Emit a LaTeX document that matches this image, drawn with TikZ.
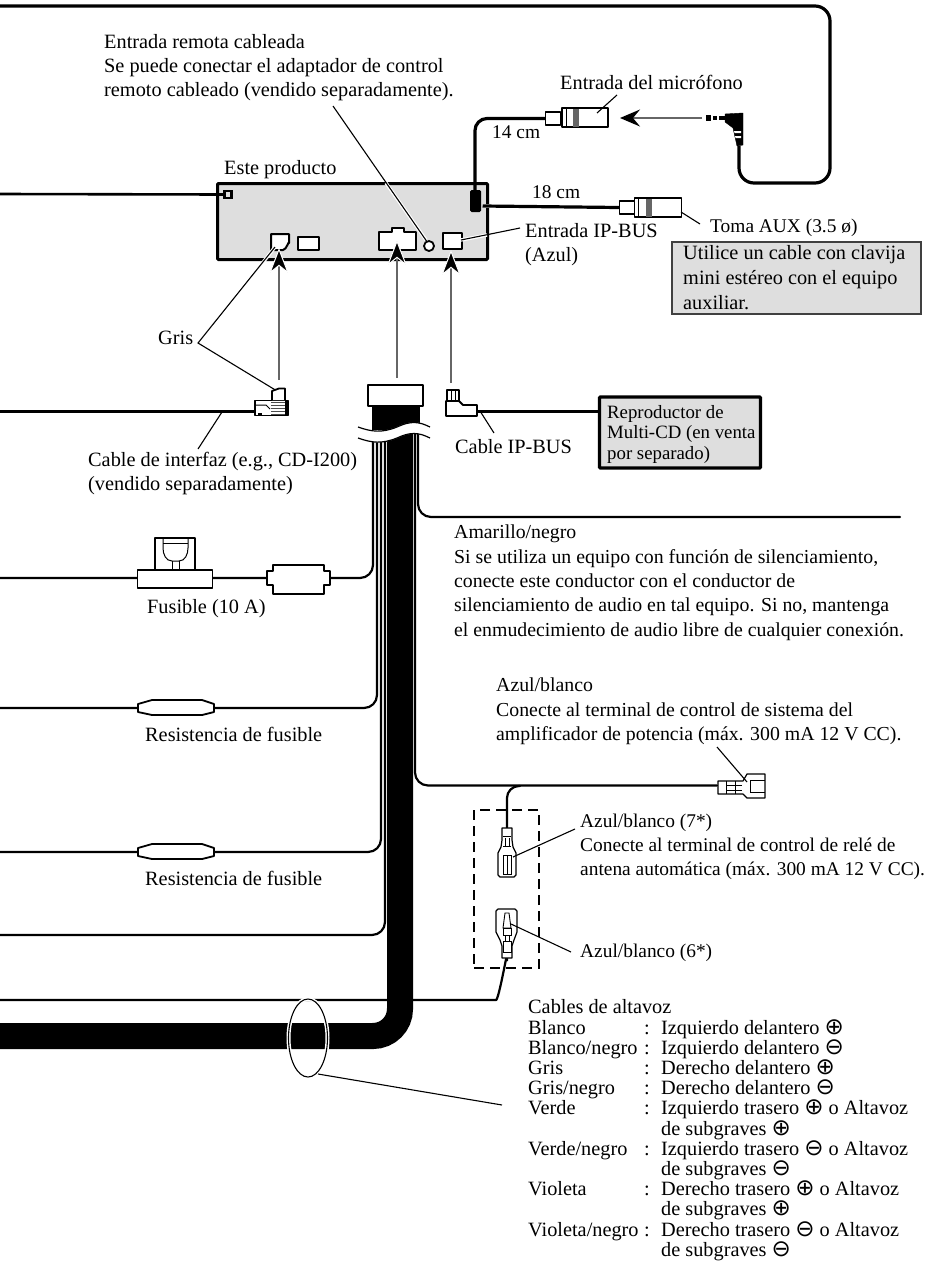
\documentclass[tikz,border=0pt]{standalone}
\usepackage{fontspec}
\setmainfont{Liberation Serif}
\newfontfamily\symf{DejaVu Sans}
\usetikzlibrary{arrows.meta,shapes.geometric}
\newcommand\cpl{\smash{\symf\fontsize{23}{23}\selectfont ⊕}}
\newcommand\cmn{\smash{\symf\fontsize{23}{23}\selectfont ⊖}}
\newcommand\fl{\rule{0pt}{13pt}}
\definecolor{panel}{HTML}{DEDEDE}
\definecolor{shaft}{HTML}{666666}
\tikzset{
  txt/.style={anchor=north west,inner sep=0pt,align=left,font=\fontsize{20.3}{24.5}\selectfont},
  wire/.style={line width=2.2pt,line cap=round,line join=round,rounded corners=13pt},
  wirethick/.style={line width=3.2pt,line join=round,rounded corners=15pt},
  part/.style={draw=black,fill=white,line width=1.8pt,line join=round},
  thin part/.style={draw=black,fill=white,line width=1.2pt,line join=round},
  lead/.style={line width=1.1pt,black},
  halo/.style={line width=3.4pt,white},
  plugarrow/.style={line width=2pt,shaft,-{Stealth[length=26pt,width=20pt,inset=8pt,color=white,fill=black,line width=1pt]}},
}
\begin{document}
\begin{tikzpicture}[x=1pt,y=-1pt]
\useasboundingbox (0,0) rectangle (940,1261);
% ---------- named free ends
\coordinate (L0) at (0,6);
\coordinate (L1) at (0,194);
\coordinate (L2) at (0,411);
\coordinate (L3) at (0,578);
\coordinate (L4) at (0,708);
\coordinate (L5) at (0,852);
\coordinate (L6) at (0,935);
\coordinate (L7) at (0,1000);
\coordinate (L8) at (0,1036);
\coordinate (Tr) at (830,6);
\coordinate (Br) at (830,183);
\coordinate (Bl) at (739,183);
\coordinate (W1) at (373,434);
\coordinate (W2) at (377,434);
\coordinate (W3) at (381,434);
\coordinate (W4) at (385,434);
\coordinate (W5) at (415,434);
\coordinate (W6) at (418,434);
\coordinate (Bd) at (400,425);
\coordinate (Yel) at (900,517);

% ---------- product box
\node[draw=black,fill=panel,line width=3pt,rounded corners=1pt,minimum width=270pt,minimum height=76pt,inner sep=0pt] (prod) at (352.5,221.5) {};
% sockets
\node[draw=black,fill=panel,line width=2.4pt,minimum width=7pt,minimum height=7pt,inner sep=0pt] (sockA) at (228,194.5) {};
\draw[part,line width=2pt] (271,234) -- (289,234) -- (289,243) to[out=90,in=0] (283,250) -- (271,250) -- cycle;
\coordinate (sockB) at (279,248);
\node[part,minimum width=21pt,minimum height=13pt,inner sep=0pt] (sockC) at (308.5,243.5) {};
\draw[part,line width=2pt] (379,232) -- (392,232) -- (392,228) -- (404,228) -- (404,232) -- (416,232) -- (416,250) -- (379,250) -- cycle;
\coordinate (sockD) at (397,240);
\node[circle,draw=black,fill=white,line width=1.8pt,minimum size=10pt,inner sep=0pt] (remote) at (429,246) {};
\node[part,minimum width=19pt,minimum height=16pt,inner sep=0pt] (sockE) at (452.5,241) {};
\coordinate (sockEt) at (451,250);
\node[fill=black,rounded corners=1.5pt,minimum width=11pt,minimum height=22pt,inner sep=0pt] (micjack) at (475.5,201) {};
\coordinate (auxjack) at (481,206);
\draw[wirethick,line width=2.6pt] (L1) -- (sockA.west);
\fill[panel] (228,194.5) circle (1.5pt);

% ---------- long top wire with the microphone plug
\draw[wirethick] (L0) -- (Tr) -- (Br) -- (Bl) -- (739,146);
\draw[draw=black,fill=black,line join=round] (725,114) -- (743,113) -- (743,145) -- (737,146) -- (733,128) -- (725,122) -- cycle;
\fill[white] (734,131) -- (741,131) -- (741,133) -- (734.5,133) -- cycle;
\fill[white] (735,136) -- (741,136) -- (741,138) -- (735.5,138) -- cycle;
\fill[black] (706,114.5) rectangle (711,121);
\fill[black] (713,116) rectangle (717,120);
\fill[black] (719,116) rectangle (725,120);

% ---------- microphone socket
\node[thin part,minimum width=15pt,minimum height=13pt,inner sep=0pt] (micA) at (553,118.5) {};
\node[thin part,minimum width=46pt,minimum height=19pt,inner sep=0pt] (micB) at (585,117.5) {};
\draw[line width=1pt] (566,108) -- (566,127);
\fill[shaft] (573,108.5) rectangle (579,126.5);
\draw[wirethick,rounded corners=12pt] (475,195) |- (micA.west);
\coordinate (jackTip) at (702,118);
\coordinate (micHead) at (620,118);
\draw[line width=1.4pt,shaft,-{Stealth[length=20pt,width=17pt,inset=7pt,color=black,fill=black]}] (jackTip) -- (micHead);

% ---------- AUX socket
\node[thin part,minimum width=15pt,minimum height=13pt,inner sep=0pt] (auxA) at (627,207.5) {};
\node[thin part,minimum width=47pt,minimum height=19pt,inner sep=0pt] (auxB) at (658,207.5) {};
\draw[line width=1pt] (638,198) -- (638,217);
\fill[shaft] (646,198.5) rectangle (652,216.5);
\draw[white,line width=4.6pt] (482,206) -- (490,206);
\draw[wirethick] (482.5,206) -- (auxA.west);

% ---------- remote lead (over the box)
\coordinate (remT) at (333,106);
\draw[halo] (426,240) -- (386,183);
\draw[lead] (remT) -- (426.5,241);
% ---------- Gris
\node[inner sep=0pt,anchor=west,font=\fontsize{20.3}{24}\selectfont,text height=13pt,text depth=4pt] (gris) at (158,340) {Gris};
\coordinate (grisV) at (198,343);
\coordinate (grisA) at (275,247);
\coordinate (grisB) at (277,391);
\draw[halo] (grisA) -- ++(-14,18);
\draw[lead] (grisA) -- (grisV) -- (grisB);

% ---------- IP-BUS lead over box
\coordinate (ipL) at (520,228);
\draw[halo] (461,240) -- (487,235);
\draw[lead] (ipL) -- (461,240);

% ---------- Interface connector
\draw[wire,line width=3pt] (L2) -- (255,411);
\node[part,minimum width=33pt,minimum height=15pt,inner sep=0pt] (ifc) at (271.5,408) {};
\draw[part] (272,400) -- (272,391) -- (279,388.5) -- (285,388.5) -- (285,400);
\foreach \yy in {402,405,408,411,414}{\draw[black!70,line width=1pt] (271,\yy) -- (285,\yy);}
\draw[line width=1pt] (256,405) -- (266,405) -- (270,409);
\fill[black] (258,413) rectangle (262,416);
\fill[black] (285,400) rectangle (288,415);
\coordinate (ifcL) at (222,412);
\coordinate (ifcT) at (198,449);
\draw[lead] (ifcL) -- (ifcT);

% ---------- IP-BUS connector
\draw[part] (447,401) -- (447,390) -- (459,390) -- (459,401);
\draw[line width=.8pt] (451,390) -- (451,401) (455,390) -- (455,401);
\draw[part] (446,401) -- (459,401) -- (463,405) -- (477,405) -- (477,416) -- (446,416) -- cycle;
\coordinate (ipOut) at (478,411);
\coordinate (ipT) at (494,433);
\draw[lead] (480,411) -- (ipT);

% ---------- CD player
\node[draw=black,fill=panel,line width=3.4pt,rounded corners=1pt,minimum width=161pt,minimum height=71pt,inner sep=0pt] (cd) at (680,432.5) {};
\draw[wire,line width=3pt] (ipOut) -- (cd.west |- ipOut);
\node[anchor=north west,inner sep=0pt,align=left,font=\fontsize{18.8}{20.5}\selectfont] (cdt) at (607,405) {\fl Reproductor de\\Multi-CD (en venta\\por separado)};

% ---------- wires from the loom (behind)
\draw[wire] (L7) -- (483,1000) to[out=0,in=90] (507,968) -- (507,958);
\draw[wire] (W1) |- (L3);
\draw[wire] (W2) |- (L4);
\draw[wire] (W3) |- (L5);
\draw[wire] (W4) |- (L6);
\draw[wire] (W6) |- (Yel);

% ---------- black loom
\draw[black,line width=26pt,rounded corners=27pt] (Bd) -- (400,1036) -- (L8);

% ---------- loom header
\fill[black] (372,405) rectangle (420,430);
\node[part,minimum width=55pt,minimum height=21pt,inner sep=0pt] (head) at (395.5,395.5) {};
% wave break
\draw[white,fill=white] (358,427) .. controls (372,432) and (382,433) .. (397,427) .. controls (410,421) and (418,421) .. (430,427) -- (430,438) .. controls (418,432) and (410,432) .. (397,438) .. controls (382,444) and (372,443) .. (358,438) -- cycle;
\draw[line width=1.2pt] (358,427) .. controls (372,432) and (382,433) .. (397,427) .. controls (410,421) and (418,421) .. (430,427);
\draw[line width=1.2pt] (358,438) .. controls (372,443) and (382,444) .. (397,438) .. controls (410,432) and (418,432) .. (430,438);

% ---------- fuse
\node[part,minimum width=40pt,minimum height=32pt,inner sep=0pt,line width=1.6pt] (fuseT) at (175,554) {};
\draw[line width=1pt] (163,538) -- (163,548) to[out=-90,in=180] (172,561) -- (179,561) to[out=0,in=-90] (188,548) -- (188,538);
\draw[line width=1pt] (163,543) -- (188,543);
\draw[line width=1pt] (172,561) -- (172,570) (179,561) -- (179,570);
\node[part,minimum width=75pt,minimum height=18pt,inner sep=0pt] (fuseB) at (175,579) {};
\draw[part] (267,571) -- (273,571) -- (273,565) -- (324,565) -- (324,571) -- (330,571) -- (330,585) -- (324,585) -- (324,594) -- (273,594) -- (273,585) -- (267,585) -- cycle;

% ---------- resistors
\draw[part] (138,704) -- (152,700) -- (202,700) -- (214,704) -- (214,712) -- (202,715) -- (152,715) -- (138,712) -- cycle;
\draw[part] (138,848) -- (152,844) -- (202,844) -- (214,848) -- (214,856) -- (202,859) -- (152,859) -- (138,856) -- cycle;

% ---------- blue system connector
\draw[wire] (W5) |- (717,785.5);
\draw[wire,rounded corners=12pt] (520,786) -- (507,786) -- (507,828);
\draw[thin part] (718,781) -- (743,781) -- (747,774) -- (765,774) -- (765,798) -- (747,798) -- (743,794) -- (718,794) -- cycle;
\draw[line width=1pt] (726,781) -- (726,794) (735,781) -- (735,794) (726,785) -- (742,785) (726,790) -- (742,790);
\draw[line width=1pt] (750,780) -- (765,780) (750,792) -- (765,792) (750,780) -- (750,792);
\coordinate (blueL) at (717,747);
\draw[lead] (blueL) -- (747,782);

% ---------- dashed frame
\node[draw=black,dash pattern=on 10pt off 6pt,line width=1.8pt,minimum width=65pt,minimum height=158pt,inner sep=0pt] (frame) at (506.5,889) {};

% ---------- terminal 7
\draw[thin part] (502,828) -- (512,828) -- (512,840) -- (513,847) -- (516,853) -- (516,875) -- (514,877) -- (500,877) -- (498,875) -- (498,853) -- (501,847) -- (502,840) -- cycle;
\draw[line width=.9pt] (503,836) -- (511,836) (503,846) -- (511,846) (505,838) -- (505,846) (509,838) -- (509,846);
\draw[line width=.9pt] (503,855) rectangle (511,874);
\draw[line width=.9pt] (507,855) -- (507,874);
\coordinate (t7) at (513,857);
\coordinate (t7L) at (575,829);
\draw[lead] (t7) -- (t7L);
% ---------- terminal 6
\draw[thin part] (498,909) -- (515,909) -- (517,911) -- (517,932) -- (514,940) -- (512,946) -- (512,958) -- (502,958) -- (502,946) -- (500,940) -- (496,932) -- (496,911) -- cycle;
\draw[line width=.9pt] (505,913) -- (509,913) -- (511,928) -- (503,928) -- cycle;
\draw[line width=.9pt] (503,928) rectangle (511,935) (503,941) rectangle (511,952);
\draw[line width=.9pt] (505,935) -- (505,941) (509,935) -- (509,941);
\coordinate (t6) at (511,924);
\coordinate (t6L) at (571,952);
\draw[lead] (t6) -- (t6L);
% plug arrows
\coordinate (a1) at (279,380);
\coordinate (a2) at (397,378);
\coordinate (a3) at (451,383);
\draw[plugarrow] (a1) -- (sockB);
\draw[plugarrow] (a2) -- (sockD);
\draw[plugarrow] (a3) -- (sockEt);

% ---------- ellipse
\node[ellipse,draw=white,line width=4pt,minimum width=39pt,minimum height=78pt,inner sep=0pt] (ellH) at (308,1038) {};
\node[ellipse,draw=black,line width=1.1pt,minimum width=39pt,minimum height=78pt,inner sep=0pt] (ell) at (308,1038) {};
\coordinate (ellT) at (502,1105);
\draw[lead] (318,1074) -- (ellT);

% ---------- leads of plugs
\coordinate (micT) at (617,95);
\draw[lead] (micT) -- (597,113);
\coordinate (auxT) at (700,224);
\draw[lead] (681,212) -- (auxT);

% ---------- note box
\node[draw=black!75,fill=panel,line width=1.4pt,minimum width=249pt,minimum height=72pt,inner sep=0pt] (note) at (796.5,278) {};

% ---------- text
\node[txt,font=\fontsize{20.3}{24}\selectfont] (t1) at (104,34) {\fl Entrada remota cableada\\Se puede conectar el adaptador de control\\remoto cableado (vendido separadamente).};
\node[txt] (t2) at (224,160) {\fl Este producto};
\node[txt,font=\fontsize{19.4}{24}\selectfont] (t3) at (492,125) {\fl 14 cm};
\node[txt,font=\fontsize{19.4}{24}\selectfont] (t4) at (532,185) {\fl 18 cm};
\node[txt] (t5) at (560,75) {\fl Entrada del micrófono};
\node[txt,font=\fontsize{19.4}{24}\selectfont] (t6t) at (710,219) {\fl Toma AUX (3.5 ø)};
\node[txt,font=\fontsize{20.3}{24}\selectfont] (t7t) at (525,223) {\fl Entrada IP-BUS\\(Azul)};
\node[txt,font=\fontsize{20.3}{25}\selectfont] (t8) at (683,245) {\fl Utilice un cable con clavija\\mini estéreo con el equipo\\auxiliar.};
\node[txt] (t9) at (88,452) {\fl Cable de interfaz (e.g., CD-I200)\\(vendido separadamente)};
\node[txt] (t10) at (455,439) {\fl Cable IP-BUS};
\node[txt] (t11) at (147,599) {\fl Fusible (10 A)};
\node[txt] (t12) at (145,727) {\fl Resistencia de fusible};
\node[txt] (t13) at (145,871) {\fl Resistencia de fusible};
\node[txt,font=\fontsize{19.8}{24.3}\selectfont] (t14) at (454,525) {\fl Amarillo/negro\\Si se utiliza un equipo con función de silenciamiento,\\conecte este conductor con el conductor de\\silenciamiento de audio en tal equipo. Si no, mantenga\\el enmudecimiento de audio libre de cualquier conexión.};
\node[txt,font=\fontsize{19.8}{24.5}\selectfont] (t15) at (496,678) {\fl Azul/blanco\\Conecte al terminal de control de sistema del\\amplificador de potencia (máx. 300 mA 12 V CC).};
\node[txt,font=\fontsize{19.4}{24}\selectfont] (t16) at (580,814) {\fl Azul/blanco (7*)\\Conecte al terminal de control de relé de\\antena automática (máx. 300 mA 12 V CC).};
\node[txt,font=\fontsize{19.4}{24}\selectfont] (t17) at (580,944) {\fl Azul/blanco (6*)};
\node[txt,font=\fontsize{20.3}{20.2}\selectfont] (t18) at (528,999.5) {%
\begin{tabular}{@{}p{116pt}@{}p{17pt}@{}l@{}}
\multicolumn{3}{@{}l}{Cables de altavoz}\\
Blanco&:&Izquierdo delantero \cpl\\
Blanco/negro&:&Izquierdo delantero \cmn\\
Gris&:&Derecho delantero \cpl\\
Gris/negro&:&Derecho delantero \cmn\\
Verde&:&Izquierdo trasero \cpl{} o Altavoz\\
&&de subgraves \cpl\\
Verde/negro&:&Izquierdo trasero \cmn{} o Altavoz\\
&&de subgraves \cmn\\
Violeta&:&Derecho trasero \cpl{} o Altavoz\\
&&de subgraves \cpl\\
Violeta/negro&:&Derecho trasero \cmn{} o Altavoz\\
&&de subgraves \cmn
\end{tabular}};
\end{tikzpicture}
\end{document}
